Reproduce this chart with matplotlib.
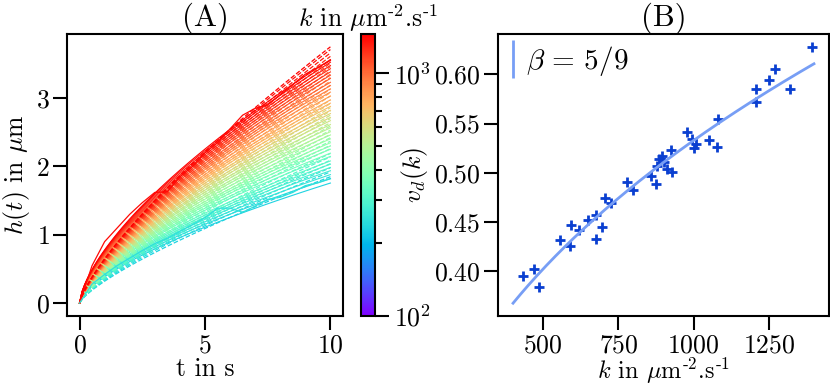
import numpy as np
import matplotlib
matplotlib.use("Agg")
import matplotlib.pyplot as plt
from matplotlib.colors import LogNorm
from matplotlib.cm import ScalarMappable
from matplotlib.lines import Line2D
from matplotlib.ticker import NullFormatter

plt.rcParams["font.family"] = "serif"
plt.rcParams["font.serif"] = ["cmr10"]
plt.rcParams["mathtext.fontset"] = "cm"
plt.rcParams["axes.formatter.use_mathtext"] = True
plt.rcParams["font.size"] = 18.5
plt.rcParams["axes.linewidth"] = 1.5

# panel A: one curve per k, height reached at t = 10 s
k_lines = [230, 245, 260, 275, 290, 305, 320, 340, 360, 380, 400, 420, 445, 470,
           495, 520, 550, 580, 610, 645, 680, 715, 755, 795, 840, 885, 930, 980,
           1030, 1085, 1140, 1200, 1260, 1320, 1380, 1440]
h_end = [1.85, 1.92, 1.98, 2.04, 2.09, 2.14, 2.19, 2.26, 2.31, 2.37, 2.42, 2.47,
         2.53, 2.59, 2.64, 2.70, 2.75, 2.81, 2.86, 2.92, 2.97, 3.03, 3.08, 3.13,
         3.19, 3.25, 3.30, 3.35, 3.40, 3.46, 3.51, 3.56, 3.61, 3.66, 3.71, 3.75]

# a few simulated trajectories
t_traj = [0, 0.5, 1, 1.5, 2, 2.5, 3, 3.5, 4, 4.5, 5, 5.5, 6, 6.5, 7, 7.5, 8,
          8.5, 9, 9.5, 10]
h_red = [0, 0.55, 0.9, 1.1, 1.3, 1.47, 1.62, 1.63, 1.85, 2.0, 2.2, 2.35, 2.55,
         2.75, 2.85, 2.9, 3.05, 3.2, 3.35, 3.45, 3.55]
h_blue = [0, 0.28, 0.42, 0.55, 0.66, 0.77, 0.87, 0.95, 1.05, 1.15, 1.25, 1.39,
          1.39, 1.33, 1.42, 1.52, 1.55, 1.62, 1.72, 1.76, 1.82]
k_red, k_blue = 1400, 250

solid_exp = 0.66
dash_exp = 0.76
solid_scale = 0.95

# panel B: drift velocity vs k
k_pts = [434, 469, 486, 557, 588, 594, 618, 648, 675, 677, 694, 705, 725, 779,
         797, 860, 874, 879, 886, 894, 902, 912, 929, 925, 977, 995, 1002, 1007,
         1051, 1078, 1082, 1206, 1206, 1250, 1270, 1322, 1394]
v_pts = [0.395, 0.402, 0.384, 0.432, 0.425, 0.447, 0.442, 0.452, 0.433, 0.457,
         0.445, 0.474, 0.469, 0.491, 0.482, 0.4965, 0.488, 0.507, 0.514, 0.517,
         0.511, 0.5035, 0.501, 0.523, 0.5416, 0.534, 0.5254, 0.529, 0.533,
         0.526, 0.555, 0.572, 0.585, 0.594, 0.605, 0.585, 0.628]
fit_amp = 0.03225
fit_exp = 0.406
fit_range = (400, 1400)

fig = plt.figure(figsize=(8.3, 3.86), dpi=100)
axA = fig.add_axes([0.0807, 0.1813, 0.3325, 0.7306])
cax = fig.add_axes([0.435, 0.1813, 0.0169, 0.7306])
axB = fig.add_axes([0.6, 0.1813, 0.3988, 0.7306])

cmap = plt.get_cmap("rainbow")
norm = LogNorm(vmin=100, vmax=1450)

t = np.linspace(0, 10, 101)
for k, h in zip(k_lines, h_end):
    c = cmap(norm(k))
    axA.plot(t, solid_scale * h * (t / 10) ** solid_exp, color=c, lw=0.8)
    axA.plot(t, h * (t / 10) ** dash_exp, color=c, lw=0.9, ls="--")
axA.plot(t_traj, h_red, color=cmap(norm(k_red)), lw=0.9)
axA.plot(t_traj, h_blue, color=cmap(norm(k_blue)), lw=0.9)

axA.set_xticks([0, 5, 10])
axA.set_yticks([0, 1, 2, 3])
axA.set_xlabel("t in s", labelpad=0)
axA.set_ylabel(r"$h(t)$ in $\mu$m", labelpad=3)
axA.set_title("(A)", pad=3)
axA.tick_params(length=10, width=1.5, pad=2.5)

cb = fig.colorbar(ScalarMappable(norm=norm, cmap=cmap), cax=cax)
cb.outline.set_linewidth(1.5)
cb.ax.yaxis.set_minor_formatter(NullFormatter())
cb.ax.tick_params(which="major", length=10, width=1.5)
cb.ax.tick_params(which="minor", length=5, width=1.5)
cb.ax.set_title(r"$k$ in $\mu$m$^{\text{-}2}$.s$^{\text{-}1}$", fontsize=18.5, pad=5)

axB.plot(k_pts, v_pts, ls="none", marker="+", ms=7, mew=2, color="#0a3fd0")
kf = np.linspace(fit_range[0], fit_range[1], 200)
axB.plot(kf, fit_amp * kf ** fit_exp, color="#779ef5", lw=2)
axB.set_xticks([500, 750, 1000, 1250])
axB.set_yticks([0.40, 0.45, 0.50, 0.55, 0.60])
axB.set_xlabel(r"$k$ in $\mu$m$^{\text{-}2}$.s$^{\text{-}1}$", fontsize=17.5,
               labelpad=-1)
axB.set_ylabel(r"$v_d(k)$", labelpad=3)
axB.set_title("(B)", pad=3)
axB.tick_params(length=10, width=1.5, pad=2.5)

handle = Line2D([], [], color="#779ef5", marker="|", ms=27, mew=2, ls="none")
axB.legend([handle], [r"$\beta\,=\,5/9$"], loc="upper left", frameon=False,
           fontsize=21, handlelength=0.3, handletextpad=0.3,
           borderaxespad=0.15, borderpad=0.2)

fig.savefig("out.png", dpi=100)
